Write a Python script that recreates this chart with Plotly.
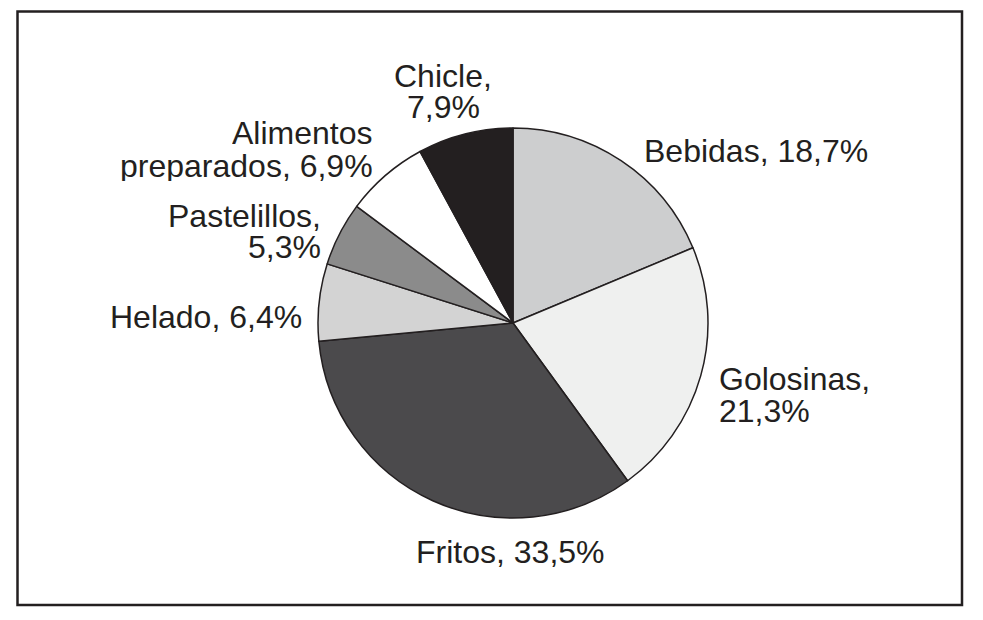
import plotly.graph_objects as go

categories = ["Bebidas", "Golosinas", "Fritos", "Helado", "Pastelillos",
              "Alimentos preparados", "Chicle"]
values = [18.7, 21.3, 33.5, 6.4, 5.3, 6.9, 7.9]
label_lines = [
    ["Bebidas, 18,7%"],
    ["Golosinas,", "21,3%"],
    ["Fritos, 33,5%"],
    ["Helado, 6,4%"],
    ["Pastelillos,", "5,3%"],
    ["Alimentos", "preparados, 6,9%"],
    ["Chicle,", "7,9%"],
]
colors = ["#cdcecf", "#eff0ef", "#4b4a4c", "#d3d3d3", "#8b8b8b", "#ffffff", "#231f20"]

W, H = 975, 612
OFF = 8  # page body margin


def px_x(x):
    return (x - OFF) / W


def px_y(y):
    return 1 - (y - OFF) / H


# label anchor positions in screen pixels (x, y of first line center, xanchor)
label_pos = [
    (643, 150, "left"),
    (718, 378, "left"),
    (510, 551, "center"),
    (303, 316, "right"),
    (322, 215, "right"),
    (374, 133, "right"),
    (443, 75, "center"),
]
LINE_SP = 32

fig = go.Figure(go.Pie(
    labels=categories,
    values=values,
    sort=False,
    direction="clockwise",
    rotation=0,
    marker=dict(colors=colors, line=dict(color="#231f20", width=1.5)),
    textinfo="none",
    hoverinfo="label+percent",
    showlegend=False,
    domain=dict(x=[px_x(318), px_x(708)], y=[px_y(518), px_y(128)]),
))

annotations = []
for lines, (px, py, xa) in zip(label_lines, label_pos):
    for i, ln in enumerate(lines):
        annotations.append(dict(
            x=px_x(px), y=px_y(py + i * LINE_SP), xref="paper", yref="paper",
            text=ln, showarrow=False, xanchor=xa, yanchor="middle",
            height=31, borderpad=0,
            font=dict(family="Liberation Sans, Arial, sans-serif", size=32, color="#231f20"),
        ))

fig.update_layout(
    width=W, height=H,
    margin=dict(l=0, r=0, t=0, b=0),
    paper_bgcolor="white",
    plot_bgcolor="white",
    annotations=annotations,
    shapes=[dict(type="rect", xref="paper", yref="paper",
                 x0=px_x(17.5), x1=px_x(962), y0=px_y(605), y1=px_y(11.5),
                 line=dict(color="#231f20", width=2.5))],
)

fig.write_html("out.html")
